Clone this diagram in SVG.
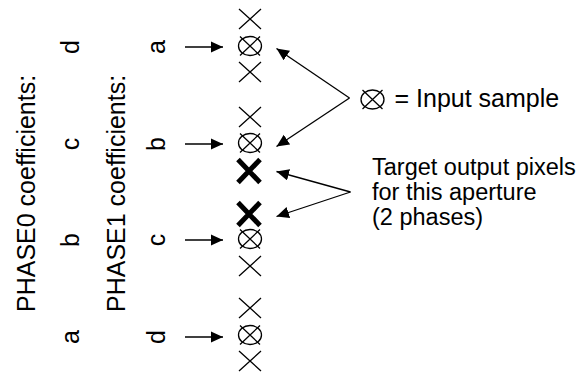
<svg xmlns="http://www.w3.org/2000/svg" width="582" height="375" viewBox="0 0 582 375">
<style>
text{font-family:"Liberation Sans",Arial,Helvetica,sans-serif;font-size:24px;fill:#000}
.rot{font-size:25px}
.leg{font-size:25px}
.tgt{font-size:23.5px}
.thin{stroke:#000;stroke-width:1.3;fill:none}
.bold{stroke:#000;stroke-width:5;fill:none}
.conn{stroke:#000;stroke-width:1.3;fill:none;marker-end:url(#ah)}
</style>
<defs>
<marker id="ah" markerUnits="userSpaceOnUse" markerWidth="14" markerHeight="12" refX="12.5" refY="5.75" orient="auto">
<path d="M0,0 L12.5,5.75 L0,11.5 z" fill="#000"/>
</marker>
<g id="x"><path class="thin" d="M-11,-10 L11,10 M-11,10 L11,-10"/></g>
<g id="ox"><ellipse class="thin" cx="0" cy="0" rx="11.5" ry="9.5"/><path class="thin" d="M-10,-9.5 L10,9.5 M-10,9.5 L10,-9.5"/></g>
<g id="bx"><path class="bold" d="M-11,-11.5 L11,11.5 M-11,11.5 L11,-11.5"/></g>
</defs>

<g id="phase0-label"><text class="rot" transform="translate(35,312) rotate(-90)">PHASE0 coefficients:</text></g>
<g id="phase0-coeffs">
<text class="rot" text-anchor="middle" transform="translate(79,47) rotate(-90)">d</text>
<text class="rot" text-anchor="middle" transform="translate(79,144) rotate(-90)">c</text>
<text class="rot" text-anchor="middle" transform="translate(79,240) rotate(-90)">b</text>
<text class="rot" text-anchor="middle" transform="translate(79,337) rotate(-90)">a</text>
</g>
<g id="phase1-label"><text class="rot" transform="translate(125,312) rotate(-90)">PHASE1 coefficients:</text></g>
<g id="phase1-coeffs">
<text class="rot" text-anchor="middle" transform="translate(165,47) rotate(-90)">a</text>
<text class="rot" text-anchor="middle" transform="translate(165,144) rotate(-90)">b</text>
<text class="rot" text-anchor="middle" transform="translate(165,240) rotate(-90)">c</text>
<text class="rot" text-anchor="middle" transform="translate(165,337) rotate(-90)">d</text>
</g>

<g id="samples1"><use href="#x" x="250" y="19"/><use href="#ox" x="250" y="46"/><use href="#x" x="250" y="72"/></g>
<g id="samples2"><use href="#x" x="250" y="117"/><use href="#ox" x="250" y="143"/><use href="#bx" x="249" y="171"/></g>
<g id="samples3"><use href="#bx" x="249" y="214"/><use href="#ox" x="250" y="239"/><use href="#x" x="250" y="266"/></g>
<g id="samples4"><use href="#x" x="250" y="308"/><use href="#ox" x="250" y="335"/><use href="#x" x="250" y="361"/></g>

<g id="legend-input"><use href="#ox" x="372.5" y="99.5"/><text class="leg" x="394.5" y="107">= Input sample</text></g>
<g id="legend-target"><text class="tgt"><tspan x="372" y="175">Target output pixels</tspan><tspan x="372" y="200">for this aperture</tspan><tspan x="372" y="224.5">(2 phases)</tspan></text></g>

<g id="connectors">
<line class="conn" x1="185" y1="47" x2="223" y2="47"/>
<line class="conn" x1="185" y1="144" x2="223" y2="144"/>
<line class="conn" x1="185" y1="240" x2="223" y2="240"/>
<line class="conn" x1="185" y1="337" x2="223" y2="337"/>
<line class="conn" x1="349.5" y1="98" x2="276.5" y2="48.5"/>
<line class="conn" x1="349.5" y1="98" x2="276.5" y2="146.5"/>
<line class="conn" x1="350.5" y1="192" x2="276.5" y2="171.5"/>
<line class="conn" x1="350.5" y1="192" x2="276.5" y2="216.5"/>
</g>
</svg>
